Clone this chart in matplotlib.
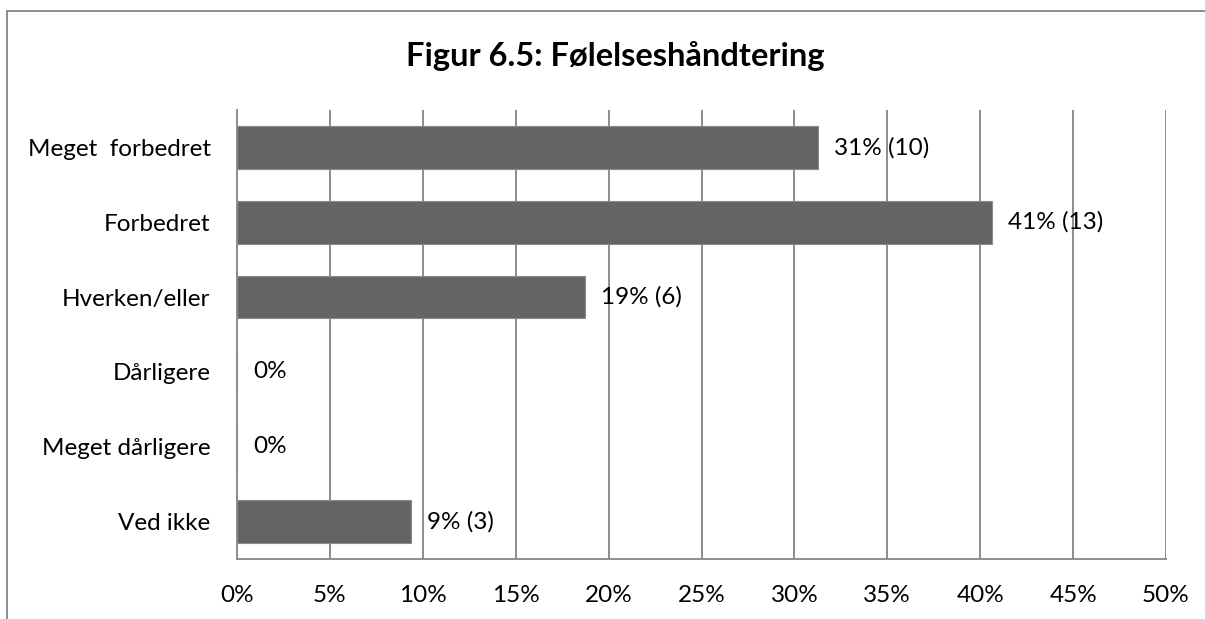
import matplotlib
matplotlib.use('Agg')
import matplotlib.pyplot as plt
from matplotlib.patches import Rectangle

plt.rcParams['font.family'] = ['Lato', 'DejaVu Sans']

categories = ['Meget  forbedret', 'Forbedret', 'Hverken/eller', 'Dårligere',
              'Meget dårligere', 'Ved ikke']
percent = [31.25, 40.625, 18.75, 0, 0, 9.375]
value_labels = ['31% (10)', '41% (13)', '19% (6)', '0%', '0%', '9% (3)']
xticks = [0, 5, 10, 15, 20, 25, 30, 35, 40, 45, 50]

W, H = 1205, 619
fig = plt.figure(figsize=(W / 100, H / 100), dpi=100)

# plot area in pixels: left 237, right 1166, top 110, bottom 559
ax = fig.add_axes([237 / W, 1 - 559 / H, (1166 - 237) / W, (559 - 110) / H])

grid_col = '#8c8c8c'
fs = 17.5
ypos = list(range(len(categories)))
ax.barh(ypos, percent, height=0.57, color='#646464', edgecolor='#8a8a8a',
        linewidth=0.8, zorder=3)

for y, v, lab in zip(ypos, percent, value_labels):
    ax.annotate(lab, (v, y), xytext=(16, 0), textcoords='offset pixels',
                ha='left', va='center', fontsize=fs, color='black', zorder=4)

ax.set_xlim(0, 50)
ax.set_ylim(len(categories) - 0.5, -0.5)
ax.set_xticks(xticks)
ax.set_xticklabels([f'{t}%' for t in xticks], fontsize=fs)
ax.set_yticks(ypos)
ax.set_yticklabels(categories, fontsize=fs)
ax.tick_params(axis='both', length=0)
ax.tick_params(axis='x', pad=19)
ax.tick_params(axis='y', pad=19)

ax.grid(axis='x', color=grid_col, linewidth=1.4, zorder=0)
for s in ['top', 'right']:
    ax.spines[s].set_visible(False)
for s in ['left', 'bottom']:
    ax.spines[s].set_color(grid_col)
    ax.spines[s].set_linewidth(1.4)

fig.text(615 / W, 1 - 56 / H, 'Figur 6.5: Følelseshåndtering', ha='center',
         va='center', fontsize=23.5, fontweight='bold')

# chart frame (only the top and left edges fall inside the picture)
fig.patches.append(Rectangle((7 / W, -0.1), 1.2, 1 - 11 / H + 0.1,
                             transform=fig.transFigure, fill=False,
                             edgecolor='#8c8c8c', linewidth=1.4))

fig.savefig('out.png', dpi=100)
